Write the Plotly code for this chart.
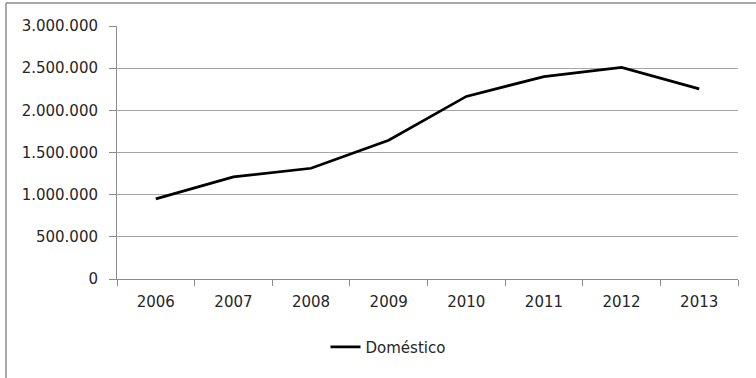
import plotly.graph_objects as go

# Domestic series by year
years = ["2006", "2007", "2008", "2009", "2010", "2011", "2012", "2013"]
domestico = [950000, 1210000, 1313000, 1645000, 2165000, 2400000, 2510000, 2255000]
y_ticks = [0, 500000, 1000000, 1500000, 2000000, 2500000, 3000000]
series_name = "Doméstico"

W, H = 756, 378
L, R, T, B = 117, 18, 26, 99
pw, ph = W - L - R, H - T - B

axis_col = "#8c8c8c"
grid_col = "#a6a6a6"
text_col = "#262626"
font_fam = "DejaVu Sans"
fsize = 15

fig = go.Figure()
fig.add_trace(go.Scatter(
    x=years, y=domestico, mode="lines", name=series_name,
    line=dict(color="#000000", width=2.75),
    showlegend=True,
))

fig.update_layout(
    width=W, height=H,
    margin=dict(l=L, r=R, t=T, b=B),
    paper_bgcolor="white", plot_bgcolor="white",
    separators=",.",
    font=dict(family=font_fam, size=fsize, color=text_col),
    showlegend=True,
    legend=dict(
        orientation="h", x=(388 - L) / pw, xanchor="center",
        y=(H - B - 347) / ph, yanchor="middle",
        font=dict(family=font_fam, size=fsize, color=text_col),
        bgcolor="rgba(0,0,0,0)",
    ),
    xaxis=dict(
        type="category", range=[-0.5, len(years) - 0.5],
        showgrid=False, showline=True, linecolor=axis_col, linewidth=1,
        ticks="outside", tickson="boundaries", ticklen=6, tickcolor=axis_col,
        ticklabelstandoff=9,
        tickfont=dict(family=font_fam, size=fsize, color=text_col),
        zeroline=False,
    ),
    yaxis=dict(
        range=[0, 3000000], tickvals=y_ticks, tickformat=",d",
        showgrid=True, gridcolor=grid_col, gridwidth=1,
        showline=True, linecolor=axis_col, linewidth=1,
        ticks="outside", ticklen=7, tickcolor=axis_col,
        ticklabelstandoff=8,
        tickfont=dict(family=font_fam, size=fsize, color=text_col),
        zeroline=False,
    ),
)

# Chart-area frame (left and top edges)
fx0 = (6 - L) / pw
fy1 = (H - B - 3) / ph
fig.add_shape(type="line", xref="paper", yref="paper",
              x0=fx0, x1=fx0, y0=-1.0, y1=fy1,
              line=dict(color="#8c8c8c", width=1.5))
fig.add_shape(type="line", xref="paper", yref="paper",
              x0=fx0, x1=1.2, y0=fy1, y1=fy1,
              line=dict(color="#8c8c8c", width=1.5))

fig.write_html("out.html")
